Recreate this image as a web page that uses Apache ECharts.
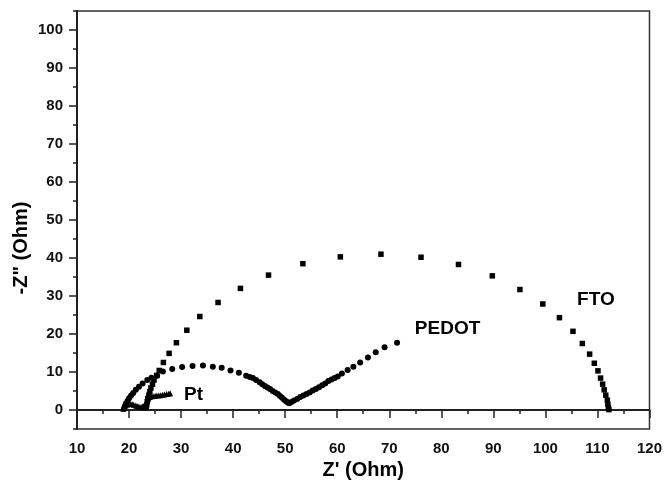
<!DOCTYPE html>
<html>
<head>
<meta charset="utf-8">
<script src="https://cdn.jsdelivr.net/npm/echarts/dist/echarts.min.js"></script>
<style>
  html, body { margin: 0; padding: 0; background: #fff; }
  #container { width: 665px; height: 488px; }
</style>
</head>
<body>
<div id="container"></div>
<script>
// Z' (Ohm), -Z'' (Ohm)
var ftoData = [
    [23.3,0.6],[23.4,1.4],[23.5,2.2],[23.6,3.0],[23.8,3.9],[24.0,4.8],[24.2,5.8],[24.5,6.8],
    [24.8,7.9],[25.3,9.1],[25.8,10.4],[26.6,12.5],[27.7,14.9],[29.1,17.7],[31.1,21.0],[33.6,24.6],
    [37.1,28.3],[41.4,32.0],[46.8,35.5],[53.4,38.5],[60.6,40.3],[68.4,41.0],[76.1,40.2],[83.3,38.3],
    [89.8,35.3],[95.1,31.7],[99.5,27.9],[102.7,24.3],[105.3,20.7],[107.1,17.5],[108.5,14.7],[109.4,12.3],
    [110.1,10.3],[110.6,8.4],[111.0,6.8],[111.3,5.3],[111.6,3.9],[111.9,2.6],[112.0,1.5],[112.1,0.7],[112.2,0.1]
];
var pedotData = [
    [19.0,0.3],[19.2,1.0],[19.4,1.7],[19.7,2.4],[20.0,3.1],[20.4,3.8],[20.8,4.5],[21.3,5.3],
    [21.9,6.1],[22.6,7.0],[23.5,7.9],[24.3,8.5],[25.4,9.0],[26.5,10.1],[28.3,10.8],[30.2,11.3],
    [32.2,11.6],[34.2,11.7],[36.1,11.4],[37.8,11.1],[39.5,10.4],[41.1,9.8],[42.5,9.0],[43.2,8.7],
    [43.8,8.4],[44.4,7.9],[45.1,7.3],[45.6,6.8],[46.1,6.3],[46.6,5.9],[47.1,5.5],[47.6,5.0],
    [48.1,4.6],[48.6,4.2],[49.0,3.7],[49.4,3.2],[49.8,2.7],[50.2,2.3],[50.5,2.0],[50.8,1.8],
    [51.2,2.1],[51.7,2.5],[52.3,2.9],[52.9,3.4],[53.5,3.8],[54.1,4.2],[54.7,4.6],[55.3,5.1],
    [55.9,5.5],[56.5,6.0],[57.1,6.5],[57.7,7.0],[58.3,7.6],[58.9,8.0],[59.5,8.4],[60.1,8.8],
    [60.9,9.6],[62.0,10.5],[63.1,11.4],[64.4,12.5],[65.9,13.8],[67.4,15.2],[69.1,16.5],[71.5,17.7]
];
var ptData = [
    [18.9,0.3],[19.0,0.6],[19.1,0.9],[19.3,1.2],[19.6,1.4],[19.9,1.6],[20.3,1.6],[20.6,1.5],
    [20.9,1.4],[21.3,1.2],[21.6,1.0],[21.9,0.9],[22.3,0.8],[22.6,0.9],[22.9,1.2],[23.1,1.6],
    [23.3,2.1],[23.5,2.6],[23.7,3.0],[24.0,3.4],[24.4,3.6],[24.8,3.7],[25.2,3.8],[25.6,3.8],
    [26.0,3.9],[26.4,4.0],[26.8,4.1],[27.2,4.2],[27.6,4.3],[27.9,4.4]
];
// curve names and where they sit on the plot (data units)
var curveLabels = [
    [109.7,28.9,'FTO'],
    [81.2,21.4,'PEDOT'],
    [32.4,4.1,'Pt']
];
var yTicks = [0,10,20,30,40,50,60,70,80,90,100];

var font = 'Arial, "Liberation Sans", sans-serif';
var axisColor = '#222';

var dom = document.getElementById("container");
var myChart = echarts.init(dom);
var option = {
    animation: false,
    grid: {
        left: 77, right: 14, top: 11, bottom: 59,
        show: true,
        borderColor: '#333',
        borderWidth: 1.5
    },
    graphic: [{
        type: 'text',
        x: 21,
        y: 248,
        rotation: Math.PI / 2,
        style: {
            text: '-Z" (Ohm)',
            x: 0, y: 0,
            align: 'center',
            verticalAlign: 'middle',
            font: 'bold 20px ' + font,
            fill: '#000'
        }
    }],
    xAxis: {
        type: 'value',
        min: 10,
        max: 120,
        interval: 10,
        name: "Z' (Ohm)",
        nameLocation: 'middle',
        nameGap: 28,
        nameTextStyle: { fontFamily: font, fontWeight: 'bold', fontSize: 20, color: '#000' },
        axisLine: { lineStyle: { color: axisColor, width: 2 } },
        axisTick: { length: 8, lineStyle: { color: axisColor, width: 1.5 } },
        minorTick: { show: true, splitNumber: 2, length: 4, lineStyle: { color: axisColor, width: 1.5 } },
        axisLabel: { margin: 12, fontFamily: font, fontWeight: 'bold', fontSize: 15, color: '#111' },
        splitLine: { show: false }
    },
    yAxis: [{
        type: 'value',
        min: -5,
        max: 105,
        position: 'left',
        axisLine: { onZero: false, lineStyle: { color: axisColor, width: 2 } },
        axisTick: { length: 8, customValues: yTicks, lineStyle: { color: axisColor, width: 1.5 } },
        axisLabel: { margin: 14, customValues: yTicks, fontFamily: font, fontWeight: 'bold', fontSize: 15, color: '#111' },
        splitLine: { show: false }
    }, {
        type: 'value',
        min: -5,
        max: 105,
        interval: 5,
        position: 'left',
        axisLine: { show: false },
        axisTick: { length: 4, lineStyle: { color: axisColor, width: 1.5 } },
        axisLabel: { show: false },
        splitLine: { show: false }
    }],
    series: [
        {
            name: 'FTO',
            type: 'scatter',
            symbol: 'rect',
            symbolSize: 5.5,
            itemStyle: { color: '#000', opacity: 1 },
            data: ftoData
        },
        {
            name: 'PEDOT',
            type: 'scatter',
            symbol: 'circle',
            symbolSize: 6,
            itemStyle: { color: '#000', opacity: 1 },
            data: pedotData
        },
        {
            name: 'Pt',
            type: 'scatter',
            symbol: 'triangle',
            symbolSize: 6,
            itemStyle: { color: '#000', opacity: 1 },
            data: ptData
        },
        {
            name: 'labels',
            type: 'scatter',
            symbolSize: 1,
            itemStyle: { color: '#fff', opacity: 0 },
            label: {
                show: true,
                position: 'inside',
                formatter: function (p) { return p.value[2]; },
                fontFamily: font,
                fontWeight: 'bold',
                fontSize: 19,
                color: '#000',
                opacity: 1
            },
            data: curveLabels
        }
    ]
};
if (option && typeof option === "object") {
    myChart.setOption(option, true);
}
</script>
</body>
</html>
